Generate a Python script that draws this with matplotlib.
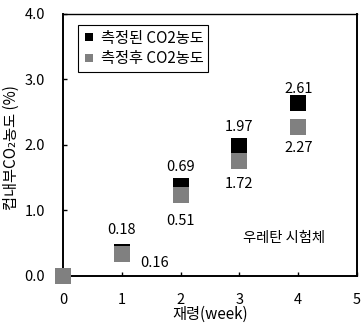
import matplotlib
matplotlib.use('Agg')
import matplotlib.pyplot as plt

plt.rcParams['font.family'] = ['Noto Sans CJK KR', 'DejaVu Sans']
plt.rcParams['font.size'] = 10

# data
weeks = [0, 1, 2, 3, 4]
co2_measured = [0.0, 0.37, 1.38, 1.99, 2.64]
co2_after = [0.0, 0.33, 1.24, 1.75, 2.28]
measured_labels = ['', '0.18', '0.69', '1.97', '2.61']
after_labels = ['', '0.16', '0.51', '1.72', '2.27']

# label offsets in pixels
measured_off = [(0, 0), (0, 22), (0, 19), (0, 19), (0, 14)]
after_off = [(0, 0), (33, -9), (0, -26), (0, -23), (0, -21)]

fig = plt.figure(figsize=(3.61, 3.25), dpi=100)
ax = fig.add_axes([0.1745, 0.1508, 0.8145, 0.8062])

ax.plot(weeks, co2_measured, 's', color='black', markersize=12.2,
        markeredgewidth=0, clip_on=False, zorder=3, label='측정된 CO2농도')
ax.plot(weeks, co2_after, 's', color='#808080', markersize=12.2,
        markeredgewidth=0, clip_on=False, zorder=4, label='측정후 CO2농도')

for x, y, t, o in zip(weeks, co2_measured, measured_labels, measured_off):
    if t:
        ax.annotate(t, (x, y), xytext=o, textcoords='offset pixels',
                    ha='center', va='center', fontsize=10.5)
for x, y, t, o in zip(weeks, co2_after, after_labels, after_off):
    if t:
        ax.annotate(t, (x, y), xytext=o, textcoords='offset pixels',
                    ha='center', va='center', fontsize=10.5)

ax.text(0.75, 0.145, '우레탄 시험체', transform=ax.transAxes,
        ha='center', va='center', fontsize=10.3)

ax.set_xlim(0, 5)
ax.set_ylim(0, 4)
ax.set_xticks(range(6))
ax.set_yticks([0, 1, 2, 3, 4])
ax.set_yticklabels(['0.0', '1.0', '2.0', '3.0', '4.0'])
ax.tick_params(direction='in', length=3, width=1, top=False, right=False,
               labelsize=10.5)
ax.tick_params(axis='y', pad=13)
ax.tick_params(axis='x', pad=12)
for s in ['left', 'bottom', 'right']:
    ax.spines[s].set_linewidth(1.4)
ax.spines['top'].set_linewidth(1.0)

ax.set_xlabel('재령(week)', fontsize=11)
ax.set_ylabel('컵내부CO₂농도 (%)', fontsize=11)
ax.xaxis.set_label_coords(0.5, -0.115)
ax.yaxis.set_label_coords(-0.146, 0.49)

leg = ax.legend(loc='upper left', bbox_to_anchor=(0.051, 0.958), fontsize=11,
                markerscale=0.42, handlelength=0.8, handletextpad=0.4,
                borderpad=0.3, labelspacing=0.25, borderaxespad=0,
                fancybox=False, framealpha=1, edgecolor='black', numpoints=1)
leg.get_frame().set_linewidth(0.8)

plt.savefig('out.png', dpi=100)
